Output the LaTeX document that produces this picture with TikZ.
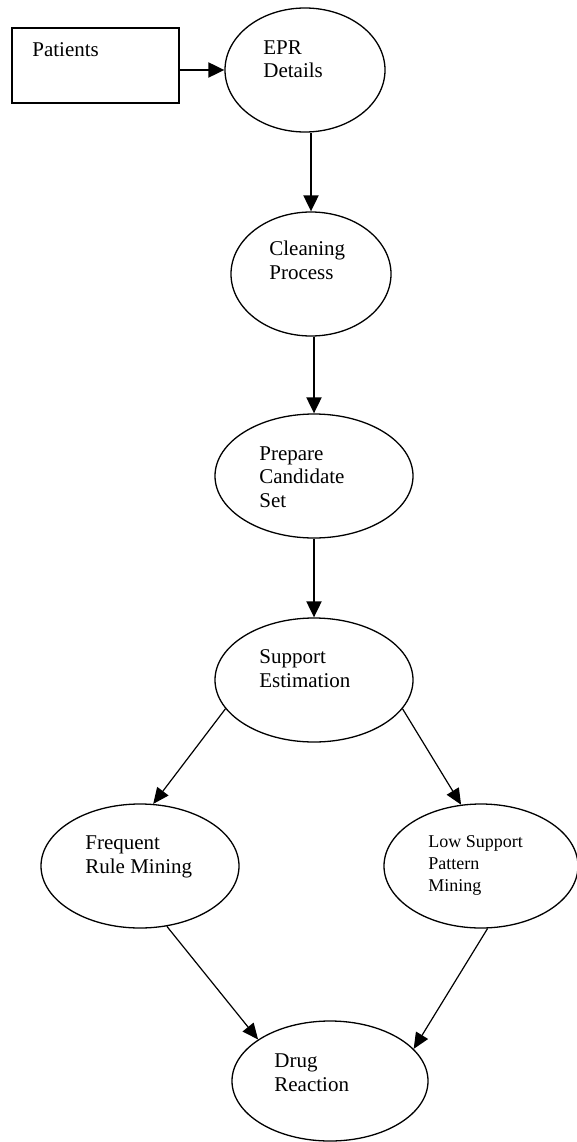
\documentclass[tikz,border=0pt]{standalone}
\usepackage{fontspec}
\setmainfont{Liberation Serif}
\usetikzlibrary{shapes.geometric,arrows.meta}

\begin{document}
\begin{tikzpicture}[x=1pt,y=-1pt,thick,font=\fontsize{21}{23.5}\selectfont,
	flow/.style={-{Triangle[length=16pt,width=15pt]},line width=2pt},
	branch/.style={-{Triangle[length=16pt,width=14pt]},line width=1.2pt}]

	\useasboundingbox (0,0) rectangle (577,1142);

	\node[draw,rectangle,line width=1.3pt,minimum width=167pt,minimum height=75pt,inner sep=0pt] (patients) at (95.5,65.5) {};

	\begin{scope}[every node/.style={draw,ellipse,line width=1.3pt,inner sep=0pt}]
		\node[minimum width=160pt,minimum height=124pt] (epr)      at (305,70)   {};
		\node[minimum width=160pt,minimum height=124pt] (cleaning) at (311,274)  {};
		\node[minimum width=198pt,minimum height=124pt] (prepare)  at (314,476)  {};
		\node[minimum width=198pt,minimum height=124pt] (support)  at (314,680)  {};
		\node[minimum width=198pt,minimum height=124pt] (frequent) at (140,866)  {};
		\node[minimum width=194pt,minimum height=124pt] (lowsup)   at (481,866)  {};
		\node[minimum width=196pt,minimum height=120pt] (drug)     at (330,1081) {};
	\end{scope}

	% base anchor sits on the last line
	\begin{scope}[every node/.style={anchor=base west,align=left,inner sep=0pt}]
		\node (patientstext) at (32,57)   {Patients};
		\node (eprtext)      at (263,78)  {EPR\\Details};
		\node (cleantext)    at (269,279) {Cleaning\\Process};
		\node (preptext)     at (259,507) {Prepare\\Candidate\\Set};
		\node (supptext)     at (259,687) {Support\\Estimation};
		\node (freqtext)     at (85,873)  {Frequent\\Rule Mining};
		\node[font=\fontsize{18}{22}\selectfont] (lowtext) at (428,891) {Low Support\\Pattern\\Mining};
		\node (drugtext)     at (274,1091) {Drug\\Reaction};
	\end{scope}

	\draw[flow] (patients.east |- epr.west) -- (epr.west);
	\draw[flow] (cleaning.north |- epr.south) -- (cleaning.north);
	\draw[flow] (prepare.north |- cleaning.south) -- (prepare.north);
	\draw[flow] (prepare.south) -- (support.north);

	\draw[branch] (support.-162) -- (frequent.78);
	\draw[branch] (support.-18)  -- (lowsup.108);
	\draw[branch] (frequent.-66) -- (drug.150);
	\draw[branch] (lowsup.-84)   -- (drug.21);

\end{tikzpicture}
\end{document}
